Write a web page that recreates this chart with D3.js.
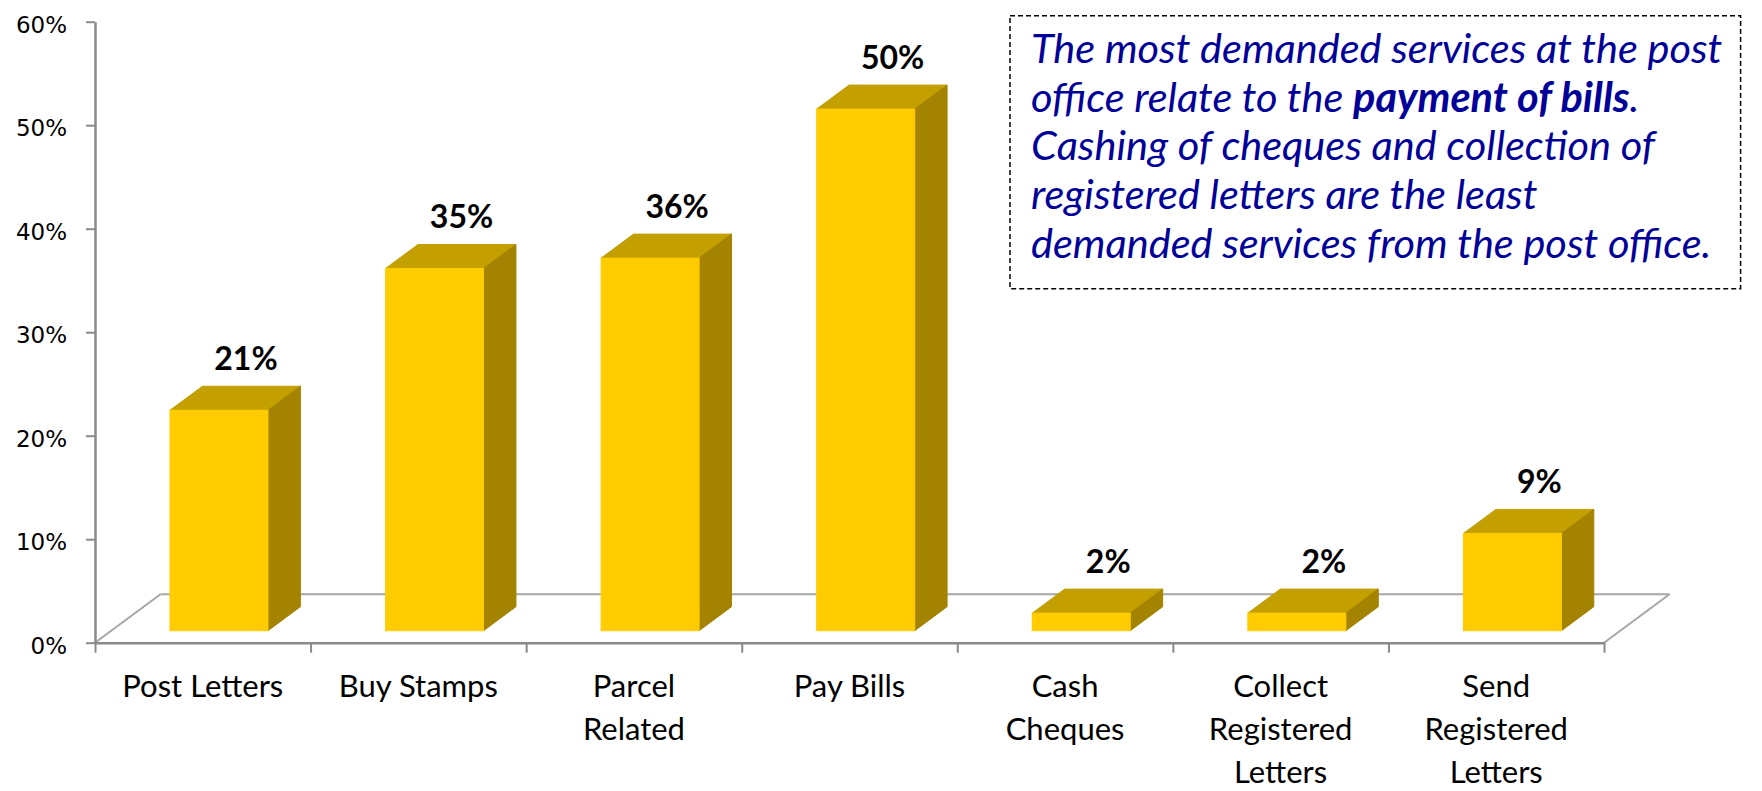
<!DOCTYPE html>
<html>
<head>
<meta charset="utf-8">
<script src="https://cdn.jsdelivr.net/npm/d3@7"></script>
<style>
  html, body { margin: 0; padding: 0; background: #fff; overflow: hidden; }
  svg { display: block; }
</style>
</head>
<body>
<svg id="chart" width="1762" height="791"></svg>
<script>
// Share of respondents using each post office service
const categories = ["Post Letters", "Buy Stamps", "Parcel Related", "Pay Bills",
                    "Cash Cheques", "Collect Registered Letters", "Send Registered Letters"];
const shares = [0.213, 0.35, 0.36, 0.504, 0.017, 0.017, 0.094];
const yTicks = [0, 0.1, 0.2, 0.3, 0.4, 0.5, 0.6];

// Commentary box, one entry per line; bold runs flagged
const noteLines = [
  [{ t: "The most demanded services at the post" }],
  [{ t: "office relate to the " }, { t: "payment of bills", b: true }, { t: "." }],
  [{ t: "Cashing of cheques and collection of" }],
  [{ t: "registered letters are the least" }],
  [{ t: "demanded services from the post office." }]
];

(function draw() {
  const svg = d3.select("#chart");

  // Plot frame and oblique depth of the floor
  const plotLeft = 95, plotRight = 1604, plotTop = 21.7, plotBase = 642.7;
  const DX = 65.5, DY = -48.5;          // full floor depth, projected
  const dFront = 0.247, dBack = 0.742;  // bar depth slice within the floor

  const x = d3.scaleBand().domain(categories).range([plotLeft, plotRight])
    .paddingInner(0.5455).paddingOuter(0.5455 / 2);
  const y = d3.scaleLinear().domain([0, 0.6]).range([plotBase, plotTop]);
  const edge = d3.scaleLinear().domain([0, categories.length]).range([plotLeft, plotRight]);

  const gridColor = "#a6a6a6";
  const axisColor = "#8a8a8a";

  // Floor outline (back edge and side edges)
  const floor = svg.append("g").attr("fill", "none").attr("stroke", gridColor).attr("stroke-width", 2);
  floor.append("line")
    .attr("x1", plotLeft + DX).attr("y1", plotBase + DY)
    .attr("x2", plotRight + DX).attr("y2", plotBase + DY);
  floor.append("line")
    .attr("x1", plotLeft).attr("y1", plotBase)
    .attr("x2", plotLeft + DX).attr("y2", plotBase + DY);
  floor.append("line")
    .attr("x1", plotRight).attr("y1", plotBase)
    .attr("x2", plotRight + DX).attr("y2", plotBase + DY);

  // 3D columns
  const colFront = "#FFCC00", colTop = "#C49F00", colSide = "#A38300";
  const ddx = (dBack - dFront) * DX, ddy = (dBack - dFront) * DY;
  svg.append("g").selectAll("g").data(categories).join("g")
    .each(function (c, i) {
      const g = d3.select(this);
      const w = x.bandwidth();
      const fx = x(c) + dFront * DX;
      const yb = y(0) + dFront * DY;
      const yt = y(shares[i]) + dFront * DY;
      g.append("polygon")
        .attr("points", [[fx, yt], [fx + w, yt], [fx + w + ddx, yt + ddy], [fx + ddx, yt + ddy]].join(" "))
        .attr("fill", colTop).attr("stroke", colTop).attr("stroke-width", 1);
      g.append("polygon")
        .attr("points", [[fx + w, yt], [fx + w + ddx, yt + ddy], [fx + w + ddx, yb + ddy], [fx + w, yb]].join(" "))
        .attr("fill", colSide).attr("stroke", colSide).attr("stroke-width", 1);
      g.append("rect")
        .attr("x", fx).attr("y", yt).attr("width", w).attr("height", yb - yt)
        .attr("fill", colFront).attr("stroke", colFront).attr("stroke-width", 1);
      g.append("text")
        .attr("x", fx + w / 2 + 27).attr("y", yt + ddy - 16)
        .attr("text-anchor", "middle")
        .attr("font-family", "Lato, sans-serif").attr("font-weight", "bold")
        .attr("font-size", 32).attr("fill", "#000")
        .text(d3.format(".0%")(shares[i]));
    });

  // Value axis
  const yAxis = svg.append("g").attr("transform", `translate(${plotLeft},0)`)
    .call(d3.axisLeft(y).tickValues(yTicks).tickFormat(d3.format(".0%"))
      .tickSize(9).tickSizeOuter(0).tickPadding(19));
  yAxis.select(".domain").attr("stroke", axisColor).attr("stroke-width", 2.5);
  yAxis.selectAll(".tick line").attr("stroke", axisColor).attr("stroke-width", 2);
  yAxis.selectAll(".tick text")
    .attr("font-family", "'DejaVu Sans', sans-serif").attr("font-size", 23)
    .attr("fill", "#000").attr("dy", "0.46em");

  // Category axis (front edge of the floor) with ticks between categories
  const xAxis = svg.append("g").attr("transform", `translate(0,${plotBase})`)
    .call(d3.axisBottom(edge).tickValues(d3.range(categories.length + 1))
      .tickFormat("").tickSize(10).tickSizeOuter(0));
  xAxis.select(".domain").attr("stroke", axisColor).attr("stroke-width", 2.5);
  xAxis.selectAll(".tick line").attr("stroke", axisColor).attr("stroke-width", 2);

  // Category labels, wrapped to fit each slot
  const labelFont = 31, lineGap = 43, firstBaseline = 697, maxLabel = 178;
  svg.append("g").selectAll("text").data(categories).join("text")
    .attr("text-anchor", "middle")
    .attr("font-family", "Lato, sans-serif").attr("font-size", labelFont).attr("fill", "#000")
    .each(function (c) {
      const t = d3.select(this);
      const cx = x(c) + x.bandwidth() / 2;
      const words = c.split(" ");
      const lines = [];
      let cur = [];
      const probe = t.append("tspan");
      words.forEach(wd => {
        probe.text(cur.concat(wd).join(" "));
        if (cur.length && probe.node().getComputedTextLength() > maxLabel) {
          lines.push(cur.join(" "));
          cur = [wd];
        } else {
          cur.push(wd);
        }
      });
      lines.push(cur.join(" "));
      probe.remove();
      lines.forEach((ln, k) => {
        t.append("tspan").attr("x", cx).attr("y", firstBaseline + k * lineGap).text(ln);
      });
    });

  // Commentary box
  const box = { x: 1010, y: 15.7, w: 730.6, h: 273 };
  svg.append("rect")
    .attr("x", box.x).attr("y", box.y).attr("width", box.w).attr("height", box.h)
    .attr("fill", "#fff").attr("stroke", "#000").attr("stroke-width", 1.5)
    .attr("stroke-dasharray", "5,3");
  const note = svg.append("text")
    .attr("font-family", "Lato, sans-serif").attr("font-style", "italic")
    .attr("font-size", 41.5).attr("fill", "#000099");
  noteLines.forEach((runs, k) => {
    const line = note.append("tspan").attr("x", 1031).attr("y", 62.7 + k * 48.8);
    runs.forEach((r, j) => {
      const span = j === 0 ? line : note.append("tspan");
      span.text(r.t).attr("font-weight", r.b ? "bold" : null);
    });
  });
})();
</script>
</body>
</html>
